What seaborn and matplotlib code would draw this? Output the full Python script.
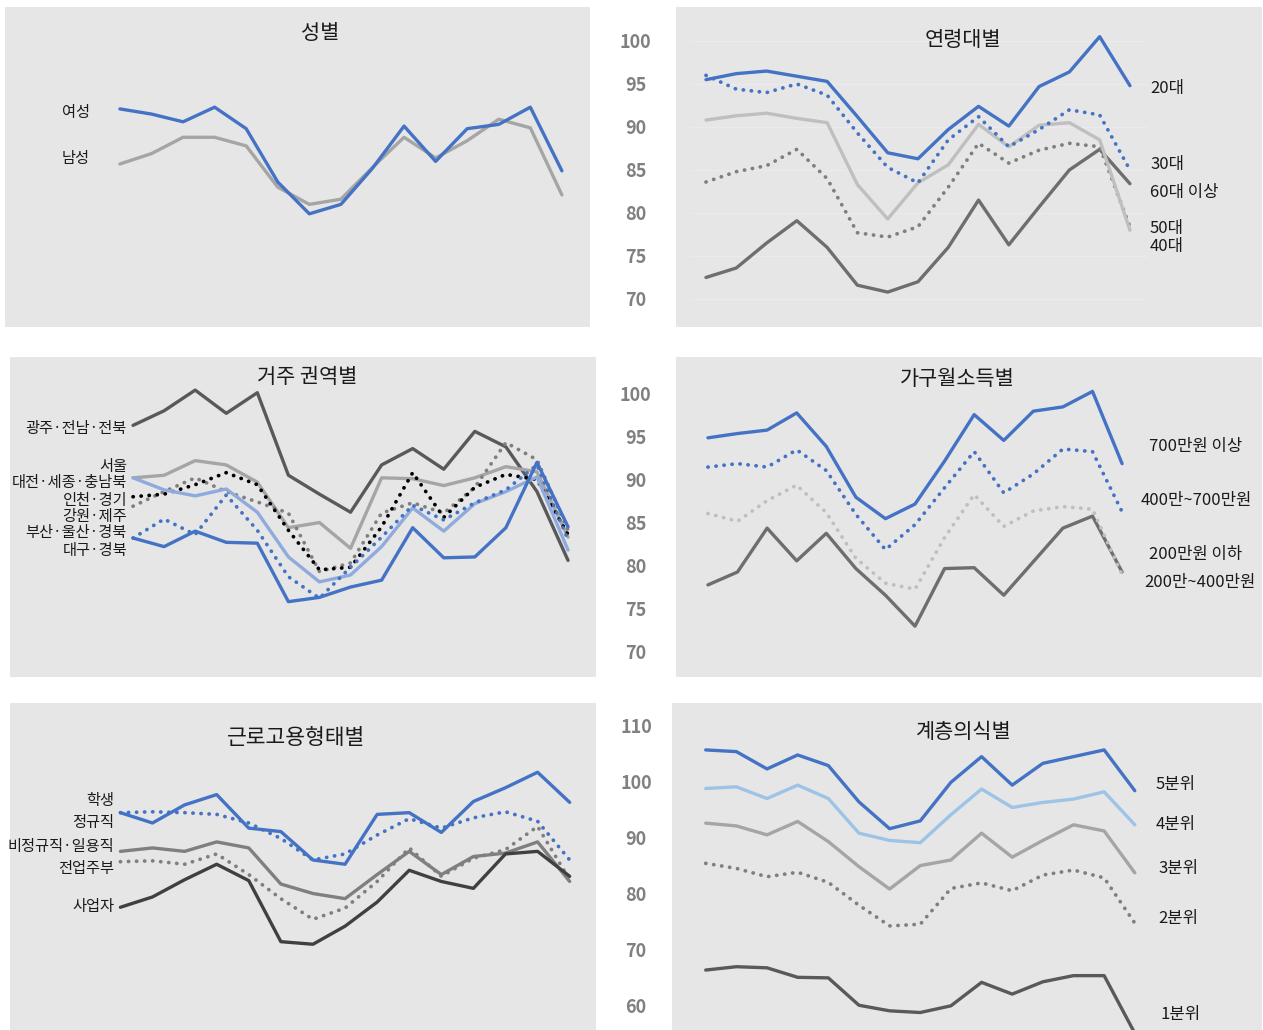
import matplotlib
matplotlib.use("Agg")
import matplotlib.pyplot as plt
import pandas as pd
import seaborn as sns

sns.set_theme(style="white")
plt.rcParams['font.family'] = ['Noto Sans CJK KR', 'DejaVu Sans']

# ---------------- data ----------------
periods = list(range(15))

# 성별
female = [92.1, 91.5, 90.6, 92.3, 89.8, 83.6, 79.9, 81.0, 85.2, 90.1, 86.0, 89.8, 90.3, 92.3, 84.9]
male = [85.7, 86.9, 88.8, 88.8, 87.8, 83.0, 81.0, 81.6, 85.3, 88.8, 86.4, 88.4, 90.9, 89.9, 82.1]

# 연령대별
age_20 = [95.5, 96.2, 96.5, 95.9, 95.3, 91.2, 87.0, 86.3, 89.7, 92.4, 90.1, 94.7, 96.4, 100.5, 94.8]
age_30 = [96.0, 94.4, 94.0, 95.0, 93.7, 89.3, 85.3, 83.5, 88.5, 91.2, 87.7, 89.7, 92.0, 91.4, 85.0]
age_40 = [90.8, 91.3, 91.6, 91.0, 90.5, 83.3, 79.3, 83.5, 85.6, 90.3, 87.7, 90.2, 90.5, 88.5, 78.0]
age_50 = [83.6, 84.8, 85.5, 87.4, 84.0, 77.7, 77.2, 78.4, 83.0, 88.1, 85.8, 87.3, 88.1, 87.7, 78.4]
age_60 = [72.5, 73.6, 76.5, 79.1, 76.0, 71.6, 70.8, 72.0, 76.0, 81.5, 76.3, 80.7, 85.0, 87.4, 83.4]
age_ticks = [70, 75, 80, 85, 90, 95, 100]

# 거주 권역별
reg_gwangju = [96.0, 97.7, 100.1, 97.4, 99.8, 90.2, 88.0, 85.9, 91.4, 93.3, 90.9, 95.3, 93.5, 88.3, 80.3]
reg_seoul = [89.9, 90.2, 91.9, 91.4, 89.4, 84.1, 84.7, 81.7, 89.9, 89.8, 89.0, 89.9, 91.2, 90.6, 83.0]
reg_daejeon = [89.9, 88.5, 87.8, 88.6, 85.9, 80.7, 77.8, 78.6, 81.9, 86.4, 83.7, 86.9, 88.3, 90.0, 81.5]
reg_incheon = [87.7, 88.0, 89.1, 90.5, 89.1, 83.8, 79.2, 79.5, 84.2, 90.5, 85.3, 88.8, 90.3, 89.7, 83.3]
reg_gangwon = [86.6, 88.3, 89.9, 88.3, 87.1, 85.8, 79.0, 80.0, 85.8, 87.0, 85.8, 88.8, 94.0, 92.0, 83.8]
reg_busan = [82.9, 85.1, 83.3, 87.9, 83.8, 78.4, 75.9, 79.5, 83.0, 86.7, 85.0, 87.0, 88.5, 91.4, 82.7]
reg_daegu = [82.9, 81.9, 83.7, 82.4, 82.3, 75.5, 76.0, 77.2, 78.0, 84.1, 80.6, 80.7, 84.1, 91.7, 84.2]

# 가구월소득별
inc_700 = [94.9, 95.4, 95.8, 97.8, 93.9, 88.0, 85.5, 87.2, 92.2, 97.6, 94.6, 98.0, 98.5, 100.3, 91.9]
inc_400_700 = [91.5, 91.9, 91.5, 93.5, 91.1, 86.0, 81.9, 84.8, 89.1, 93.3, 88.5, 90.7, 93.6, 93.3, 86.3]
inc_200_400 = [86.1, 85.2, 87.6, 89.4, 86.2, 80.9, 78.0, 77.3, 83.3, 88.3, 84.6, 86.4, 86.9, 86.6, 79.0]
inc_200 = [77.8, 79.3, 84.4, 80.6, 83.8, 79.7, 76.6, 73.0, 79.7, 79.8, 76.6, 80.5, 84.4, 85.8, 79.3]
inc_ticks = [70, 75, 80, 85, 90, 95, 100]

# 근로고용형태별
emp_student = [91.2, 90.0, 92.1, 93.3, 89.4, 89.0, 85.7, 85.2, 91.0, 91.2, 88.9, 92.5, 94.1, 95.9, 92.4]
emp_regular = [91.2, 91.3, 91.2, 91.0, 90.0, 88.2, 85.7, 86.4, 88.6, 90.5, 89.4, 90.6, 91.3, 90.2, 85.7]
emp_irregular = [86.7, 87.1, 86.7, 87.8, 87.1, 82.9, 81.8, 81.2, 84.0, 86.7, 84.0, 86.1, 86.5, 87.8, 83.2]
emp_housewife = [85.5, 85.6, 85.2, 86.4, 84.0, 81.2, 78.8, 80.1, 83.2, 87.1, 83.8, 85.9, 86.9, 89.6, 83.4]
emp_owner = [80.2, 81.4, 83.4, 85.2, 83.3, 76.2, 75.9, 78.0, 80.8, 84.5, 83.2, 82.4, 86.4, 86.7, 83.8]

# 계층의식별
cls_5 = [105.7, 105.4, 102.3, 104.8, 102.9, 96.4, 91.6, 93.0, 99.9, 104.5, 99.4, 103.3, 104.5, 105.7, 98.4]
cls_4 = [98.8, 99.1, 97.0, 99.4, 97.0, 90.8, 89.5, 89.1, 94.1, 98.7, 95.4, 96.3, 96.9, 98.2, 92.3]
cls_3 = [92.6, 92.1, 90.5, 92.9, 89.3, 84.8, 80.8, 85.0, 86.0, 90.8, 86.5, 89.5, 92.3, 91.2, 83.7]
cls_2 = [85.4, 84.5, 83.0, 83.8, 82.0, 77.9, 74.2, 74.5, 80.9, 81.9, 80.5, 83.3, 84.2, 82.8, 74.7]
cls_1 = [66.3, 66.9, 66.7, 65.0, 64.9, 60.0, 59.0, 58.7, 59.9, 64.1, 62.0, 64.2, 65.3, 65.3, 55.0]
cls_ticks = [60, 70, 80, 90, 100, 110]

# ---------------- styling ----------------
BLUE = '#4472C4'
LBLUE = '#8FAADC'
LBLUE2 = '#9DC3E6'
GRAY = '#A5A5A5'
LGRAY = '#BFBFBF'
MGRAY = '#7F7F7F'
DGRAY = '#595959'
VDGRAY = '#404040'
BG = '#E6E6E6'
TXT = '#1A1A1A'
TICKC = '#808080'

W, H = 1263, 1030
fig = plt.figure(figsize=(W / 100, H / 100), dpi=100)
fig.patch.set_facecolor('white')


def add_ax(x0, y0, x1, y1, xlim, ylim):
    ax = fig.add_axes([x0 / W, 1 - y1 / H, (x1 - x0) / W, (y1 - y0) / H])
    ax.set_facecolor(BG)
    for s in ax.spines.values():
        s.set_visible(False)
    ax.set_xticks([])
    ax.set_yticks([])
    ax.set_xlim(*xlim)
    ax.set_ylim(*ylim)
    return ax


def draw(ax, vals, color, dotted=False, lw=2.4):
    df = pd.DataFrame({'t': periods, 'v': vals})
    if dotted:
        sns.lineplot(data=df, x='t', y='v', ax=ax, color=color, linewidth=lw + 0.3,
                     linestyle=(0, (0.05, 2.1)), dash_capstyle='round', legend=False)
    else:
        sns.lineplot(data=df, x='t', y='v', ax=ax, color=color, linewidth=lw,
                     solid_joinstyle='round', legend=False)
    ax.set_xlabel('')
    ax.set_ylabel('')


def ptext(x, y, s, ha='left', size=12, color=TXT, **kw):
    fig.text(x / W, 1 - y / H, s, ha=ha, va='center', fontsize=size, color=color, **kw)


def yticks(ax, ticks, pad):
    ax.set_yticks(ticks)
    ax.set_yticklabels([str(t) for t in ticks])
    ax.tick_params(axis='y', left=False, length=0, pad=pad, labelsize=13, labelcolor=TICKC)
    for lab in ax.get_yticklabels():
        lab.set_horizontalalignment('center')
        lab.set_fontweight('bold')


# ---- 성별 ----
ax1 = add_ax(5, 7, 590, 327, (-3.64, 14.89), (66.74, 103.95))
draw(ax1, male, GRAY)
draw(ax1, female, BLUE)
ptext(320, 33, '성별', ha='center', size=15)
ptext(76, 113, '여성', ha='center', size=11)
ptext(76, 158, '남성', ha='center', size=11)

# ---- 연령대별 ----
ax2 = add_ax(676, 7, 1262, 327, (-0.99, 18.36), (66.74, 103.95))
ax2.hlines(age_ticks, -0.53, 14.56, color='#EAEAF0', linewidth=1, zorder=0)
draw(ax2, age_60, '#6E6E6E')
draw(ax2, age_50, MGRAY, dotted=True)
draw(ax2, age_40, LGRAY)
draw(ax2, age_30, BLUE, dotted=True)
draw(ax2, age_20, BLUE)
yticks(ax2, age_ticks, 29)
ptext(963, 40, '연령대별', ha='center', size=15)
ptext(1150, 88, '20대')
ptext(1150, 165, '30대')
ptext(1150, 192, '60대 이상')
ptext(1150, 228, '50대')
ptext(1150, 247, '40대')

# ---- 거주 권역별 ----
ax3 = add_ax(10, 357, 596, 677, (-3.96, 14.90), (66.74, 103.95))
draw(ax3, reg_gwangju, DGRAY)
draw(ax3, reg_seoul, GRAY)
draw(ax3, reg_gangwon, MGRAY, dotted=True)
draw(ax3, reg_incheon, '#000000', dotted=True)
draw(ax3, reg_daejeon, LBLUE)
draw(ax3, reg_busan, BLUE, dotted=True)
draw(ax3, reg_daegu, BLUE)
ptext(307, 377, '거주 권역별', ha='center', size=15)
for yy, s in [(429, '광주·전남·전북'), (466, '서울'), (483, '대전·세종·충남북'),
              (501, '인천·경기'), (516, '강원·제주'), (533, '부산·울산·경북'),
              (550, '대구·경북')]:
    ptext(127, yy, s, ha='right', size=11)

# ---- 가구월소득별 ----
ax4 = add_ax(676, 357, 1262, 677, (-1.08, 18.73), (67.09, 104.30))
draw(ax4, inc_200, '#6E6E6E')
draw(ax4, inc_200_400, LGRAY, dotted=True)
draw(ax4, inc_400_700, BLUE, dotted=True)
draw(ax4, inc_700, BLUE)
yticks(ax4, inc_ticks, 29)
ptext(957, 379, '가구월소득별', ha='center', size=15)
ptext(1196, 447, '700만원 이상', ha='center', size=12)
ptext(1196, 500, '400만~700만원', ha='center', size=12)
ptext(1196, 554, '200만원 이하', ha='center', size=12)
ptext(1200, 582, '200만~400만원', ha='center', size=12)

# ---- 근로고용형태별 ----
ax5 = add_ax(10, 703, 596, 1030, (-3.44, 14.82), (65.93, 103.95))
draw(ax5, emp_housewife, MGRAY, dotted=True)
draw(ax5, emp_irregular, MGRAY)
draw(ax5, emp_owner, VDGRAY)
draw(ax5, emp_regular, BLUE, dotted=True)
draw(ax5, emp_student, BLUE)
ptext(296, 738, '근로고용형태별', ha='center', size=15.5)
for yy, s in [(801, '학생'), (823, '정규직'), (847, '비정규직·일용직'),
              (868, '전업주부'), (907, '사업자')]:
    ptext(114, yy, s, ha='right', size=11)

# ---- 계층의식별 ----
ax6 = add_ax(672, 703, 1262, 1030, (-1.10, 18.15), (55.57, 114.1))
draw(ax6, cls_1, DGRAY)
draw(ax6, cls_2, MGRAY, dotted=True)
draw(ax6, cls_3, GRAY)
draw(ax6, cls_4, LBLUE2)
draw(ax6, cls_5, BLUE)
yticks(ax6, cls_ticks, 26)
ptext(964, 732, '계층의식별', ha='center', size=15)
ptext(1176, 785, '5분위', ha='center', size=12)
ptext(1176, 825, '4분위', ha='center', size=12)
ptext(1178, 869, '3분위', ha='center', size=12)
ptext(1178, 919, '2분위', ha='center', size=12)
ptext(1181, 1014, '1분위', ha='center', size=12)

fig.savefig('out.png', dpi=100, facecolor='white')
